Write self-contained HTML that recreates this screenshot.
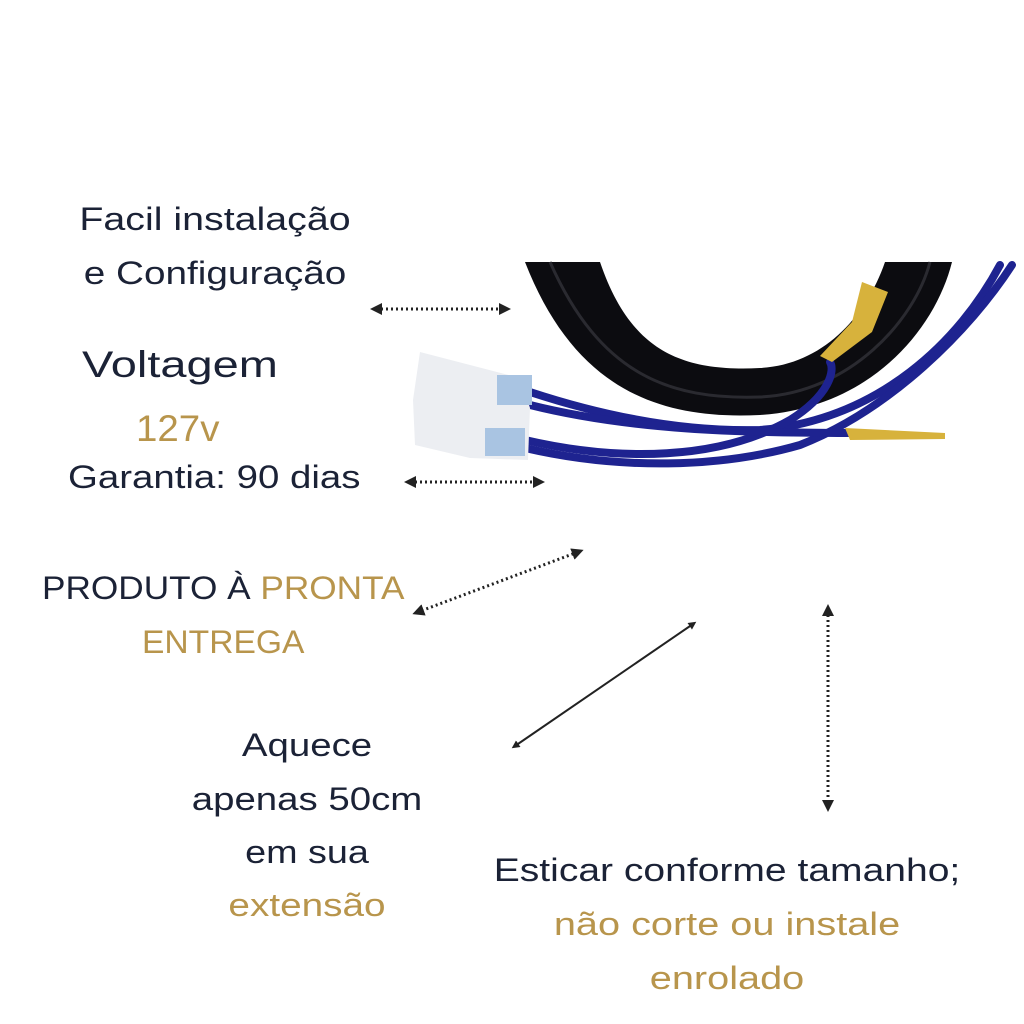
<!DOCTYPE html>
<html><head><meta charset="utf-8"><style>
body{margin:0;width:1024px;height:1024px;background:#fff;position:relative;overflow:hidden;font-family:"Liberation Sans","DejaVu Sans",sans-serif;}
.t{position:absolute;white-space:nowrap;color:#1b2236;font-size:32px;line-height:1;transform-origin:left center;}
.g{color:#b8954c;}
.c{transform-origin:center center;}
</style></head><body>
<svg width="1024" height="1024" style="position:absolute;left:0;top:0">
<defs>
<marker id="ar" viewBox="0 0 10 10" refX="5" refY="5" markerWidth="4" markerHeight="4" orient="auto-start-reverse"><path d="M0,0L10,5L0,10z" fill="#222"/></marker>
</defs>
<!-- black cable bundle -->
<path d="M525,262 C575,390 660,420 760,415 C870,408 935,330 952,262 L885,262 C865,320 820,365 760,368 C680,372 630,350 600,262 Z" fill="#0c0c10"/>
<path d="M550,262 C600,375 670,400 760,397 C850,393 915,320 930,262" stroke="#2a2a30" stroke-width="3" fill="none"/>
<!-- blue wires -->
<g stroke="#1e2390" stroke-width="8" fill="none" stroke-linecap="round">
<path d="M530,392 C600,415 680,432 760,430 C880,420 960,340 1000,265"/>
<path d="M525,440 C620,462 720,460 790,420 C830,395 835,370 830,362"/>
<path d="M525,448 C620,470 720,468 800,445 C890,410 970,330 1012,265"/>
<path d="M530,405 C630,430 740,433 850,433"/>
</g>
<!-- gold terminals -->
<path d="M862,282 L888,292 L872,332 L832,362 L820,356 L852,322 Z" fill="#d7b23c"/>
<path d="M845,428 L945,433 L945,439 L850,440 Z" fill="#d7b23c"/>
<!-- white connectors -->
<path d="M420,352 L520,378 L530,408 L528,460 L470,458 L415,445 L413,400 Z" fill="#eceef2"/>
<rect x="497" y="375" width="35" height="30" fill="#a9c4e2"/>
<rect x="485" y="428" width="40" height="28" fill="#a9c4e2"/>
<!-- arrows -->
<g stroke="#222" stroke-width="3" fill="none" marker-start="url(#ar)" marker-end="url(#ar)">
<line x1="376" y1="309" x2="505" y2="309" stroke-dasharray="2 3"/>
<line x1="410" y1="482" x2="539" y2="482" stroke-dasharray="2 3"/>
<line x1="578" y1="552" x2="418" y2="612" stroke-dasharray="2 3"/>
<line x1="515" y1="746" x2="693" y2="624" stroke-width="2"/>
<line x1="828" y1="610" x2="828" y2="806" stroke-dasharray="2 3"/>
</g>
</svg>
<div class="t c" style="left:215px;top:203px;transform:translateX(-50%) scaleX(1.23)">Facil instalação</div>
<div class="t c" style="left:215px;top:257px;transform:translateX(-50%) scaleX(1.21)">e Configuração</div>
<div class="t" style="left:82px;top:346px;font-size:37px;transform:scaleX(1.27)">Voltagem</div>
<div class="t g" style="left:136px;top:410px;font-size:37px;transform:scaleX(1.04)">127v</div>
<div class="t" style="left:68px;top:461px;transform:scaleX(1.2)">Garantia: 90 dias</div>
<div class="t" style="left:42px;top:572px;transform:scaleX(1.1)">PRODUTO À <span class="g">PRONTA</span></div>
<div class="t g" style="left:142px;top:626px;transform:scaleX(1.05)">ENTREGA</div>
<div class="t c" style="left:307px;top:729px;transform:translateX(-50%) scaleX(1.2)">Aquece</div>
<div class="t c" style="left:307px;top:783px;transform:translateX(-50%) scaleX(1.2)">apenas 50cm</div>
<div class="t c" style="left:307px;top:836px;transform:translateX(-50%) scaleX(1.18)">em sua</div>
<div class="t g c" style="left:307px;top:889px;transform:translateX(-50%) scaleX(1.21)">extensão</div>
<div class="t c" style="left:727px;top:854px;transform:translateX(-50%) scaleX(1.22)">Esticar conforme tamanho;</div>
<div class="t g c" style="left:727px;top:908px;transform:translateX(-50%) scaleX(1.24)">não corte ou instale</div>
<div class="t g c" style="left:727px;top:962px;transform:translateX(-50%) scaleX(1.24)">enrolado</div>
</body></html>
